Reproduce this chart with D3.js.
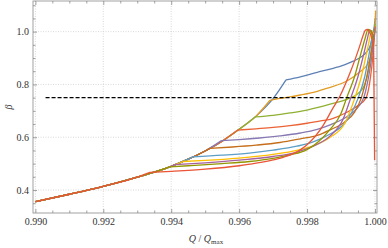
<!DOCTYPE html>
<html>
<head>
<meta charset="utf-8">
<script src="https://cdn.jsdelivr.net/npm/d3@7"></script>
<style>
  body { margin: 0; background: #fff; }
  text { font-family: "Liberation Serif", "Times New Roman", serif; }
</style>
</head>
<body>
<svg width="388" height="248"></svg>
<script>
// shared lower curve (all series follow it until they branch off)
const baseQ    = [0.9900, 0.9910, 0.9920, 0.9930, 0.9935, 0.9940, 0.9945, 0.9950, 0.9955, 0.9960, 0.9965, 0.9970, 0.99738];
const baseBeta = [0.356, 0.384, 0.414, 0.449, 0.468, 0.490, 0.517, 0.548, 0.585, 0.630, 0.680, 0.746, 0.817];

// branches, [Q/Qmax, beta], first point is where the branch leaves the shared curve
const branch1 = [[0.99738,0.817],[0.9978,0.829],[0.9983,0.846],[0.99868,0.858],[0.9991,0.874],[0.99936,0.888],[0.9996,0.905],[0.99975,0.922],[0.99985,0.943],[0.99993,0.98],[0.99998,1.02],[1.00001,1.05]];
const branch2 = [[0.99691,0.740],[0.9972,0.747],[0.9975,0.753],[0.9978,0.760],[0.9983,0.774],[0.9986,0.786],[0.9992,0.815],[0.99956,0.848],[0.9998,0.88],[0.99993,0.93],[0.99999,0.99],[1.00002,1.08]];
const branch3 = [[0.99647,0.677],[0.9970,0.683],[0.9975,0.692],[0.9980,0.703],[0.99868,0.725],[0.9992,0.745],[0.9995,0.765],[0.9997,0.80],[0.99982,0.86],[0.99991,0.94],[0.99997,1.0],[1.00001,1.03]];
const branch4 = [[0.99596,0.627],[0.9965,0.632],[0.9970,0.637],[0.9975,0.644],[0.9980,0.653],[0.9984,0.662],[0.99868,0.668],[0.9991,0.69],[0.9995,0.72],[0.99974,0.75],[0.99986,0.82],[0.99994,0.91],[0.99998,0.98],[1.00001,1.02]];
const branch5 = [[0.99548,0.587],[0.9960,0.591],[0.9966,0.597],[0.9972,0.605],[0.9978,0.616],[0.9983,0.630],[0.99868,0.647],[0.9991,0.672],[0.9994,0.70],[0.99967,0.75],[0.9998,0.82],[0.9999,0.90],[0.99996,0.97],[1.0,1.015]];
const branch6 = [[0.99514,0.558],[0.9958,0.563],[0.9965,0.570],[0.9972,0.580],[0.9978,0.594],[0.9983,0.607],[0.99868,0.628],[0.9991,0.657],[0.9994,0.695],[0.9996,0.75],[0.99976,0.83],[0.99987,0.91],[0.99994,0.97],[0.99998,1.01],[1.0,1.0]];
const branch7 = [[0.99465,0.526],[0.9955,0.532],[0.9963,0.540],[0.9970,0.551],[0.9977,0.566],[0.9982,0.583],[0.99868,0.612],[0.9991,0.652],[0.9993,0.69],[0.99951,0.75],[0.9997,0.83],[0.99982,0.91],[0.9999,0.97],[0.99995,1.005],[0.99999,1.0]];
const branch8 = [[0.99435,0.508],[0.9950,0.512],[0.9960,0.521],[0.9970,0.535],[0.9977,0.550],[0.9982,0.568],[0.99868,0.600],[0.9991,0.65],[0.99941,0.75],[0.9996,0.83],[0.99974,0.91],[0.99983,0.965],[0.9999,1.005],[0.99996,0.99]];
const branch9 = [[0.99411,0.496],[0.9950,0.503],[0.9960,0.513],[0.9970,0.527],[0.9977,0.544],[0.9982,0.567],[0.99868,0.605],[0.99905,0.665],[0.99929,0.75],[0.9995,0.83],[0.99966,0.91],[0.99977,0.97],[0.99985,1.007],[0.99992,0.995],[0.99997,0.97]];
const branch10 = [[0.99396,0.488],[0.9945,0.492],[0.9955,0.500],[0.9963,0.508],[0.9970,0.520],[0.9975,0.533],[0.9980,0.553],[0.99835,0.585],[0.99868,0.630],[0.9990,0.69],[0.99917,0.75],[0.9994,0.83],[0.99958,0.915],[0.9997,0.97],[0.9998,1.008],[0.99988,1.0],[0.99995,0.97]];
const branch11 = [[0.99337,0.467],[0.9940,0.471],[0.9950,0.479],[0.9960,0.492],[0.99632,0.498],[0.9970,0.514],[0.9973,0.524],[0.99779,0.551],[0.99804,0.576],[0.99848,0.646],[0.99877,0.712],[0.99897,0.756],[0.99926,0.842],[0.99941,0.893],[0.99955,0.945],[0.99965,0.985],[0.99971,1.004],[0.99978,1.008],[0.99985,0.995],[0.99992,0.97],[0.99996,0.94],[0.99999,0.513]];

const branches = [branch1, branch2, branch3, branch4, branch5, branch6, branch7, branch8, branch9, branch10, branch11];
const colors = ['#5E81B5','#E19C24','#8FB032','#EB6235','#8778B3','#C56E1A','#5D9EC7','#FFBF00','#A5609D','#929600','#E95536'];

const xTicks = [0.990, 0.992, 0.994, 0.996, 0.998, 1.000];
const yTicks = [0.4, 0.6, 0.8, 1.0];
const threshold = 0.75;

const plot = {l: 33, r: 377, t: 1, b: 213};
const frameColor = '#8a8a8a';

const svg = d3.select('svg');

const x = d3.scaleLinear().domain([0.98993, 1.00006]).range([plot.l, plot.r]);
const y = d3.scaleLinear().domain([0.313, 1.116]).range([plot.b, plot.t]);

svg.append('defs').append('clipPath').attr('id', 'clip')
  .append('rect')
  .attr('x', plot.l).attr('y', plot.t)
  .attr('width', plot.r - plot.l).attr('height', plot.b - plot.t);

// grid
const grid = svg.append('g');
grid.selectAll('line.gx').data(xTicks).enter().append('line')
  .attr('x1', d => x(d)).attr('x2', d => x(d))
  .attr('y1', plot.t).attr('y2', plot.b);
grid.selectAll('line.gy').data(yTicks).enter().append('line')
  .attr('x1', plot.l).attr('x2', plot.r)
  .attr('y1', d => y(d)).attr('y2', d => y(d));
grid.selectAll('line')
  .attr('stroke', '#cfcfcf')
  .attr('stroke-width', 0.8)
  .attr('stroke-dasharray', '1,1.5');

// minor tick values
const xMinor = d3.range(0.9900, 1.00001, 0.0005).filter(v => !xTicks.some(t => Math.abs(t - v) < 1e-7));
const yMinor = d3.range(0.35, 1.101, 0.05).filter(v => !yTicks.some(t => Math.abs(t - v) < 1e-7));

function styleAxis(g) {
  g.select('.domain').remove();
  g.selectAll('line').attr('stroke', frameColor).attr('stroke-width', 0.8);
  g.selectAll('text').attr('fill', '#333').attr('font-size', 10)
    .attr('font-family', '"Liberation Serif", "Times New Roman", serif');
}

svg.append('g').attr('transform', `translate(0,${plot.b})`)
  .call(d3.axisBottom(x).tickValues(xTicks).tickSize(-4).tickPadding(5).tickFormat(d3.format('.3f')))
  .call(styleAxis);
svg.append('g').attr('transform', `translate(0,${plot.b})`)
  .call(d3.axisBottom(x).tickValues(xMinor).tickSize(-2.5).tickFormat(''))
  .call(styleAxis);
svg.append('g').attr('transform', `translate(0,${plot.t})`)
  .call(d3.axisTop(x).tickValues(xTicks).tickSize(-4).tickFormat(''))
  .call(styleAxis);
svg.append('g').attr('transform', `translate(0,${plot.t})`)
  .call(d3.axisTop(x).tickValues(xMinor).tickSize(-2.5).tickFormat(''))
  .call(styleAxis);

svg.append('g').attr('transform', `translate(${plot.l},0)`)
  .call(d3.axisLeft(y).tickValues(yTicks).tickSize(-4).tickPadding(4).tickFormat(d3.format('.1f')))
  .call(styleAxis);
svg.append('g').attr('transform', `translate(${plot.l},0)`)
  .call(d3.axisLeft(y).tickValues(yMinor).tickSize(-2.5).tickFormat(''))
  .call(styleAxis);
svg.append('g').attr('transform', `translate(${plot.r},0)`)
  .call(d3.axisRight(y).tickValues(yTicks).tickSize(-4).tickFormat(''))
  .call(styleAxis);
svg.append('g').attr('transform', `translate(${plot.r},0)`)
  .call(d3.axisRight(y).tickValues(yMinor).tickSize(-2.5).tickFormat(''))
  .call(styleAxis);

// curves
const line = d3.line()
  .x(d => x(d[0]))
  .y(d => y(d[1]))
  .curve(d3.curveMonotoneX);

const base = baseQ.map((q, i) => [q, baseBeta[i]]);
const lines = svg.append('g').attr('clip-path', 'url(#clip)');

branches.forEach((br, i) => {
  const start = br[0];
  const basePart = base.filter(p => p[0] < start[0] - 1e-7).concat([start]);
  lines.append('path')
    .attr('d', line(basePart) + line(br))
    .attr('fill', 'none')
    .attr('stroke', colors[i])
    .attr('stroke-width', 1.3)
    .attr('stroke-linejoin', 'round');
});

// threshold line
svg.append('line')
  .attr('x1', x(0.9903)).attr('x2', x(1.0))
  .attr('y1', y(threshold)).attr('y2', y(threshold))
  .attr('stroke', '#000')
  .attr('stroke-width', 1.2)
  .attr('stroke-dasharray', '4,2');

// frame
svg.append('rect')
  .attr('x', plot.l).attr('y', plot.t)
  .attr('width', plot.r - plot.l).attr('height', plot.b - plot.t)
  .attr('fill', 'none')
  .attr('stroke', frameColor)
  .attr('stroke-width', 0.8);

// axis titles
const xt = svg.append('text')
  .attr('x', 206).attr('y', 242)
  .attr('text-anchor', 'middle')
  .attr('font-size', 10)
  .attr('fill', '#333');
xt.append('tspan').attr('font-style', 'italic').text('Q');
xt.append('tspan').text(' / ');
xt.append('tspan').attr('font-style', 'italic').text('Q');
xt.append('tspan').attr('font-size', 7).attr('dy', 2).text('max');

svg.append('text')
  .attr('transform', 'translate(12,107) rotate(-90)')
  .attr('text-anchor', 'middle')
  .attr('font-size', 10)
  .attr('font-style', 'italic')
  .attr('fill', '#333')
  .text('β');
</script>
</body>
</html>
